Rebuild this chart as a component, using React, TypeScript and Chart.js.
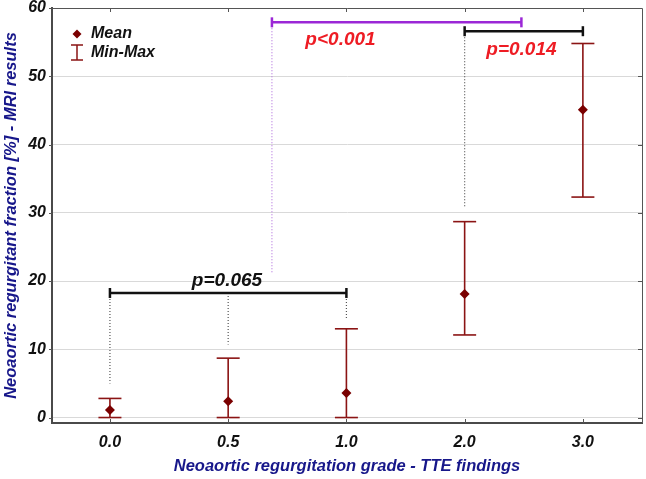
import React, { useEffect, useRef } from "react";
import { Chart, registerables } from "chart.js";

Chart.register(...registerables);

// ---- data ----
const xLabels = ["0.0", "0.5", "1.0", "2.0", "3.0"];
const meanValues = [1.1, 2.4, 3.6, 18.1, 45.1];
const minValues = [0, 0, 0, 12.1, 32.3];
const maxValues = [2.8, 8.7, 13.0, 28.7, 54.8];
const yTicks = [0, 10, 20, 30, 40, 50, 60];

// comparison brackets (category position units / y values)
const bracketStart = [0, 1.37, 3];
const bracketEnd = [2, 3.48, 4];
const bracketLevel = [18.25, 57.9, 56.6];
const bracketLabels = ["p=0.065", "p<0.001", "p=0.014"];
const bracketLabelX = [0.99, 1.95, 3.48];
const bracketLabelY = [20.1, 55.3, 53.9];

// dotted drop lines
const dropX = [0, 1, 2, 1.37, 3];
const dropTop = [18.25, 18.25, 18.25, 57.9, 56.6];
const dropBottom = [5.0, 10.7, 14.6, 21.2, 30.9];

const xTitle = "Neoaortic regurgitation grade - TTE findings";
const yTitle = "Neoaortic regurgitant fraction [%] - MRI results";
const legendLabels = ["Mean", "Min-Max"];

// ---- styles ----
const FONT = "'Liberation Sans', Arial, sans-serif";
const DARK_RED = "#8b1414";
const MARKER = "#7a0000";
const NAVY = "#17178a";
const bracketColors = ["#111111", "#9b27d6", "#111111"];
const dropColors = ["#555555", "#555555", "#555555", "#b77ae0", "#555555"];
const labelColors = ["#111111", "#ee1c24", "#ee1c24"];

const overlayPlugin = {
  id: "overlay",
  afterDraw(chart: any) {
    const { ctx, chartArea, scales } = chart;
    const xs = scales.x;
    const ys = scales.y;
    ctx.save();
    // frame top/right
    ctx.strokeStyle = "#555555";
    ctx.lineWidth = 1;
    ctx.beginPath();
    ctx.moveTo(chartArea.left, chartArea.top + 0.5);
    ctx.lineTo(chartArea.right + 0.5, chartArea.top + 0.5);
    ctx.lineTo(chartArea.right + 0.5, chartArea.bottom);
    ctx.stroke();
    // inward ticks
    ctx.beginPath();
    xLabels.forEach((_, i) => {
      const px = Math.round(xs.getPixelForValue(i)) + 0.5;
      ctx.moveTo(px, chartArea.top);
      ctx.lineTo(px, chartArea.top + 4);
      ctx.moveTo(px, chartArea.bottom);
      ctx.lineTo(px, chartArea.bottom - 4);
    });
    yTicks.forEach((v) => {
      const py = Math.round(ys.getPixelForValue(v)) + 0.5;
      ctx.moveTo(chartArea.right, py);
      ctx.lineTo(chartArea.right - 4, py);
      ctx.moveTo(chartArea.left, py);
      ctx.lineTo(chartArea.left - 3, py);
    });
    ctx.stroke();

    // p-value labels
    ctx.font = `italic bold 19px ${FONT}`;
    ctx.textAlign = "center";
    ctx.textBaseline = "middle";
    bracketLabels.forEach((t, i) => {
      ctx.fillStyle = labelColors[i];
      ctx.fillText(t, xs.getPixelForValue(bracketLabelX[i]), ys.getPixelForValue(bracketLabelY[i]));
    });

    // legend
    const lx = chartArea.left + 25;
    const ly1 = chartArea.top + 26;
    const ly2 = chartArea.top + 45;
    ctx.fillStyle = MARKER;
    ctx.beginPath();
    ctx.moveTo(lx, ly1 - 4.5);
    ctx.lineTo(lx + 4.5, ly1);
    ctx.lineTo(lx, ly1 + 4.5);
    ctx.lineTo(lx - 4.5, ly1);
    ctx.closePath();
    ctx.fill();
    ctx.strokeStyle = DARK_RED;
    ctx.lineWidth = 1.5;
    ctx.beginPath();
    ctx.moveTo(lx, ly2 - 8);
    ctx.lineTo(lx, ly2 + 7);
    ctx.moveTo(lx - 6, ly2 - 8);
    ctx.lineTo(lx + 6, ly2 - 8);
    ctx.moveTo(lx - 6, ly2 + 7);
    ctx.lineTo(lx + 6, ly2 + 7);
    ctx.stroke();
    ctx.fillStyle = "#111111";
    ctx.font = `italic bold 16px ${FONT}`;
    ctx.textAlign = "left";
    ctx.fillText(legendLabels[0], lx + 14, ly1);
    ctx.fillText(legendLabels[1], lx + 14, ly2);
    ctx.restore();
  },
};

export default function App() {
  const ref = useRef<HTMLCanvasElement | null>(null);
  useEffect(() => {
    if (!ref.current) return;
    const errData: any[] = [];
    xLabels.forEach((_, i) => {
      errData.push({ x: i, y: minValues[i] });
      errData.push({ x: i, y: maxValues[i] });
      errData.push({ x: i, y: null });
    });
    const datasets: any[] = [
      {
        label: "Mean",
        data: meanValues.map((v, i) => ({ x: i, y: v })),
        showLine: false,
        pointStyle: "rectRot",
        pointRadius: 5,
        backgroundColor: MARKER,
        borderColor: MARKER,
        borderWidth: 0,
      },
      {
        label: "Min-Max",
        data: errData,
        showLine: true,
        spanGaps: false,
        borderColor: DARK_RED,
        borderWidth: 1.6,
        pointStyle: "line",
        pointRadius: 11.5,
        pointBorderWidth: 1.6,
        pointBorderColor: DARK_RED,
        backgroundColor: DARK_RED,
      },
    ];
    bracketLabels.forEach((_, i) => {
      datasets.push({
        label: "bracket" + i,
        data: [
          { x: bracketStart[i], y: bracketLevel[i] },
          { x: bracketEnd[i], y: bracketLevel[i] },
        ],
        showLine: true,
        borderColor: bracketColors[i],
        borderWidth: 2.5,
        pointStyle: "line",
        pointRotation: 90,
        pointRadius: 5,
        pointBorderWidth: 2.5,
        pointBorderColor: bracketColors[i],
      });
    });
    dropX.forEach((x, i) => {
      datasets.push({
        label: "drop" + i,
        data: [
          { x, y: dropTop[i] },
          { x, y: dropBottom[i] },
        ],
        showLine: true,
        borderColor: dropColors[i],
        borderWidth: 1.2,
        borderDash: [1, 2],
        pointRadius: 0,
      });
    });

    const chart = new Chart(ref.current, {
      type: "scatter",
      data: { datasets },
      plugins: [overlayPlugin],
      options: {
        animation: false,
        responsive: false,
        events: [],
        layout: { autoPadding: false, padding: { top: 8, right: 4, left: 0, bottom: 0 } },
        plugins: { legend: { display: false }, tooltip: { enabled: false } },
        scales: {
          x: {
            type: "linear",
            min: -0.49,
            max: 4.5,
            afterBuildTicks: (s: any) => {
              s.ticks = xLabels.map((_, i) => ({ value: i }));
            },
            afterFit: (s: any) => {
              s.height = 56;
              s.paddingLeft = 0;
              s.paddingRight = 0;
              s.paddingTop = 0;
              s.paddingBottom = 0;
            },
            ticks: {
              callback: (v: any) => xLabels[v as number] ?? "",
              color: "#111111",
              font: { family: FONT, size: 16, style: "italic", weight: "bold" },
              padding: 10,
            },
            grid: { drawOnChartArea: false, drawTicks: false },
            border: { display: true, color: "#4a4a4a", width: 2 },
            title: {
              display: true,
              text: xTitle,
              color: NAVY,
              font: { family: FONT, size: 16.5, style: "italic", weight: "bold" },
              padding: { top: 0, bottom: 3 },
            },
          },
          y: {
            type: "linear",
            min: -0.8,
            max: 60,
            afterBuildTicks: (s: any) => {
              s.ticks = yTicks.map((v) => ({ value: v }));
            },
            afterFit: (s: any) => {
              s.width = 52;
              s.paddingLeft = 0;
              s.paddingRight = 0;
              s.paddingTop = 0;
              s.paddingBottom = 0;
            },
            ticks: {
              color: "#111111",
              font: { family: FONT, size: 16, style: "italic", weight: "bold" },
              padding: 6,
            },
            grid: { color: "#d9d9d9", lineWidth: 1, drawTicks: false },
            border: { display: true, color: "#4a4a4a", width: 2 },
            title: {
              display: true,
              text: yTitle,
              color: NAVY,
              font: { family: FONT, size: 16.5, style: "italic", weight: "bold" },
              padding: { top: 2, bottom: 0 },
            },
          },
        },
      },
    });
    return () => chart.destroy();
  }, []);

  return (
    <div style={{ position: "absolute", left: 0, top: 0, width: 646, height: 479, background: "#ffffff" }}>
      <canvas ref={ref} width={646} height={479} />
    </div>
  );
}
